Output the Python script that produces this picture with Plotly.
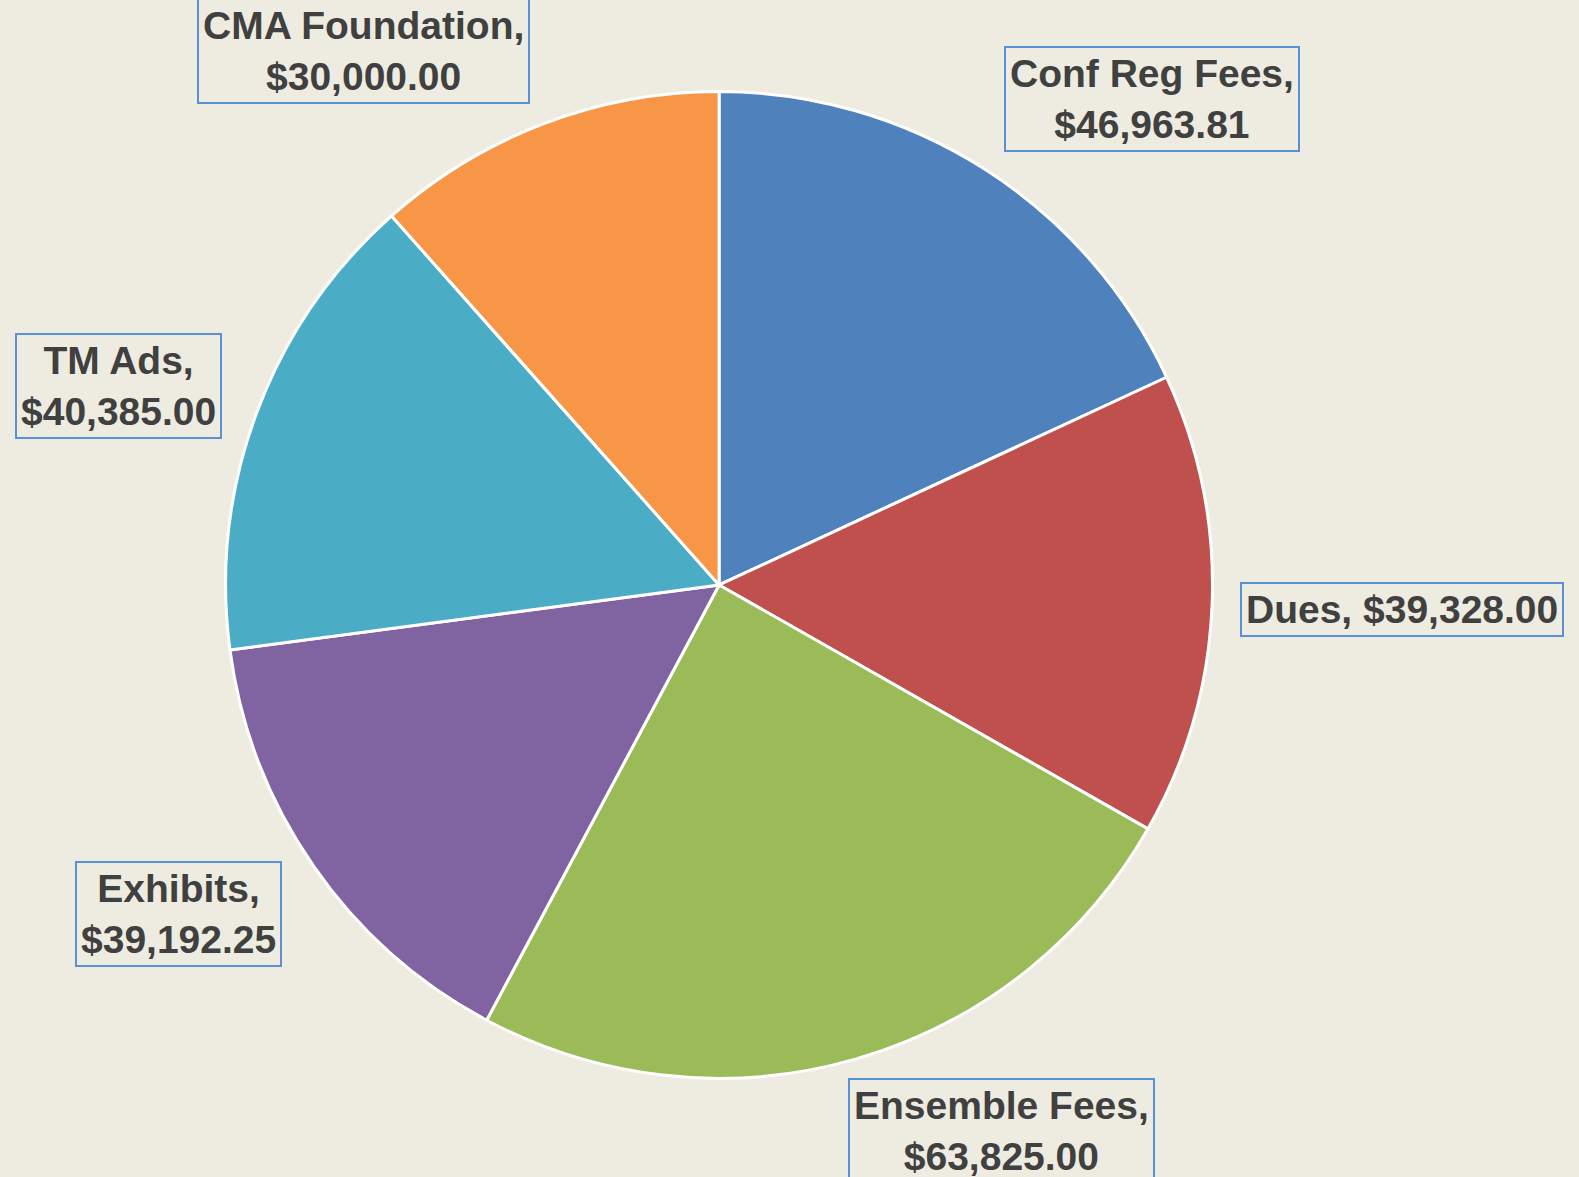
import plotly.graph_objects as go

categories = ["Conf Reg Fees", "Dues", "Ensemble Fees", "Exhibits", "TM Ads", "CMA Foundation"]
values = [46963.81, 39328.00, 63825.00, 39192.25, 40385.00, 30000.00]
colors = ["#4F81BD", "#C0504D", "#9BBB59", "#8064A2", "#4BACC6", "#F79646"]

# label box placement (paper coords) and text line breaks
label_layout = [
    dict(x=0.7296, y=0.9157, xanchor="center", yanchor="middle", br=True),
    dict(x=0.7851, y=0.4825, xanchor="left", yanchor="middle", br=False),
    dict(x=0.6343, y=0.0838, xanchor="center", yanchor="top", br=True),
    dict(x=0.1132, y=0.2237, xanchor="center", yanchor="middle", br=True),
    dict(x=0.0749, y=0.6719, xanchor="center", yanchor="middle", br=True),
    dict(x=0.2299, y=0.9119, xanchor="center", yanchor="bottom", br=True),
]

fig = go.Figure(go.Pie(
    labels=categories,
    values=values,
    sort=False,
    direction="clockwise",
    rotation=0,
    marker=dict(colors=colors, line=dict(color="white", width=3)),
    textinfo="none",
    hoverinfo="label+value",
    showlegend=False,
    domain=dict(x=[0.1429, 0.7679], y=[0.0838, 0.9222]),
))

annotations = []
for cat, val, lay in zip(categories, values, label_layout):
    sep = "<br>" if lay["br"] else " "
    annotations.append(dict(
        text=f"{cat},{sep}${val:,.2f}",
        x=lay["x"], y=lay["y"], xref="paper", yref="paper",
        xanchor=lay["xanchor"], yanchor=lay["yanchor"],
        showarrow=False,
        font=dict(family="Liberation Sans, Arial, sans-serif", size=39, color="#404040", weight="bold"),
        bordercolor="#5B8FD6", borderwidth=2, borderpad=4,
        bgcolor="rgba(0,0,0,0)", align="center",
    ))

fig.update_layout(
    width=1579, height=1177,
    margin=dict(l=0, r=0, t=0, b=0),
    paper_bgcolor="#EEECE1",
    plot_bgcolor="#EEECE1",
    annotations=annotations,
)

fig.write_html("out.html", config={"displayModeBar": False},
               post_script="document.body.style.margin='0';document.body.style.overflow='hidden';")
